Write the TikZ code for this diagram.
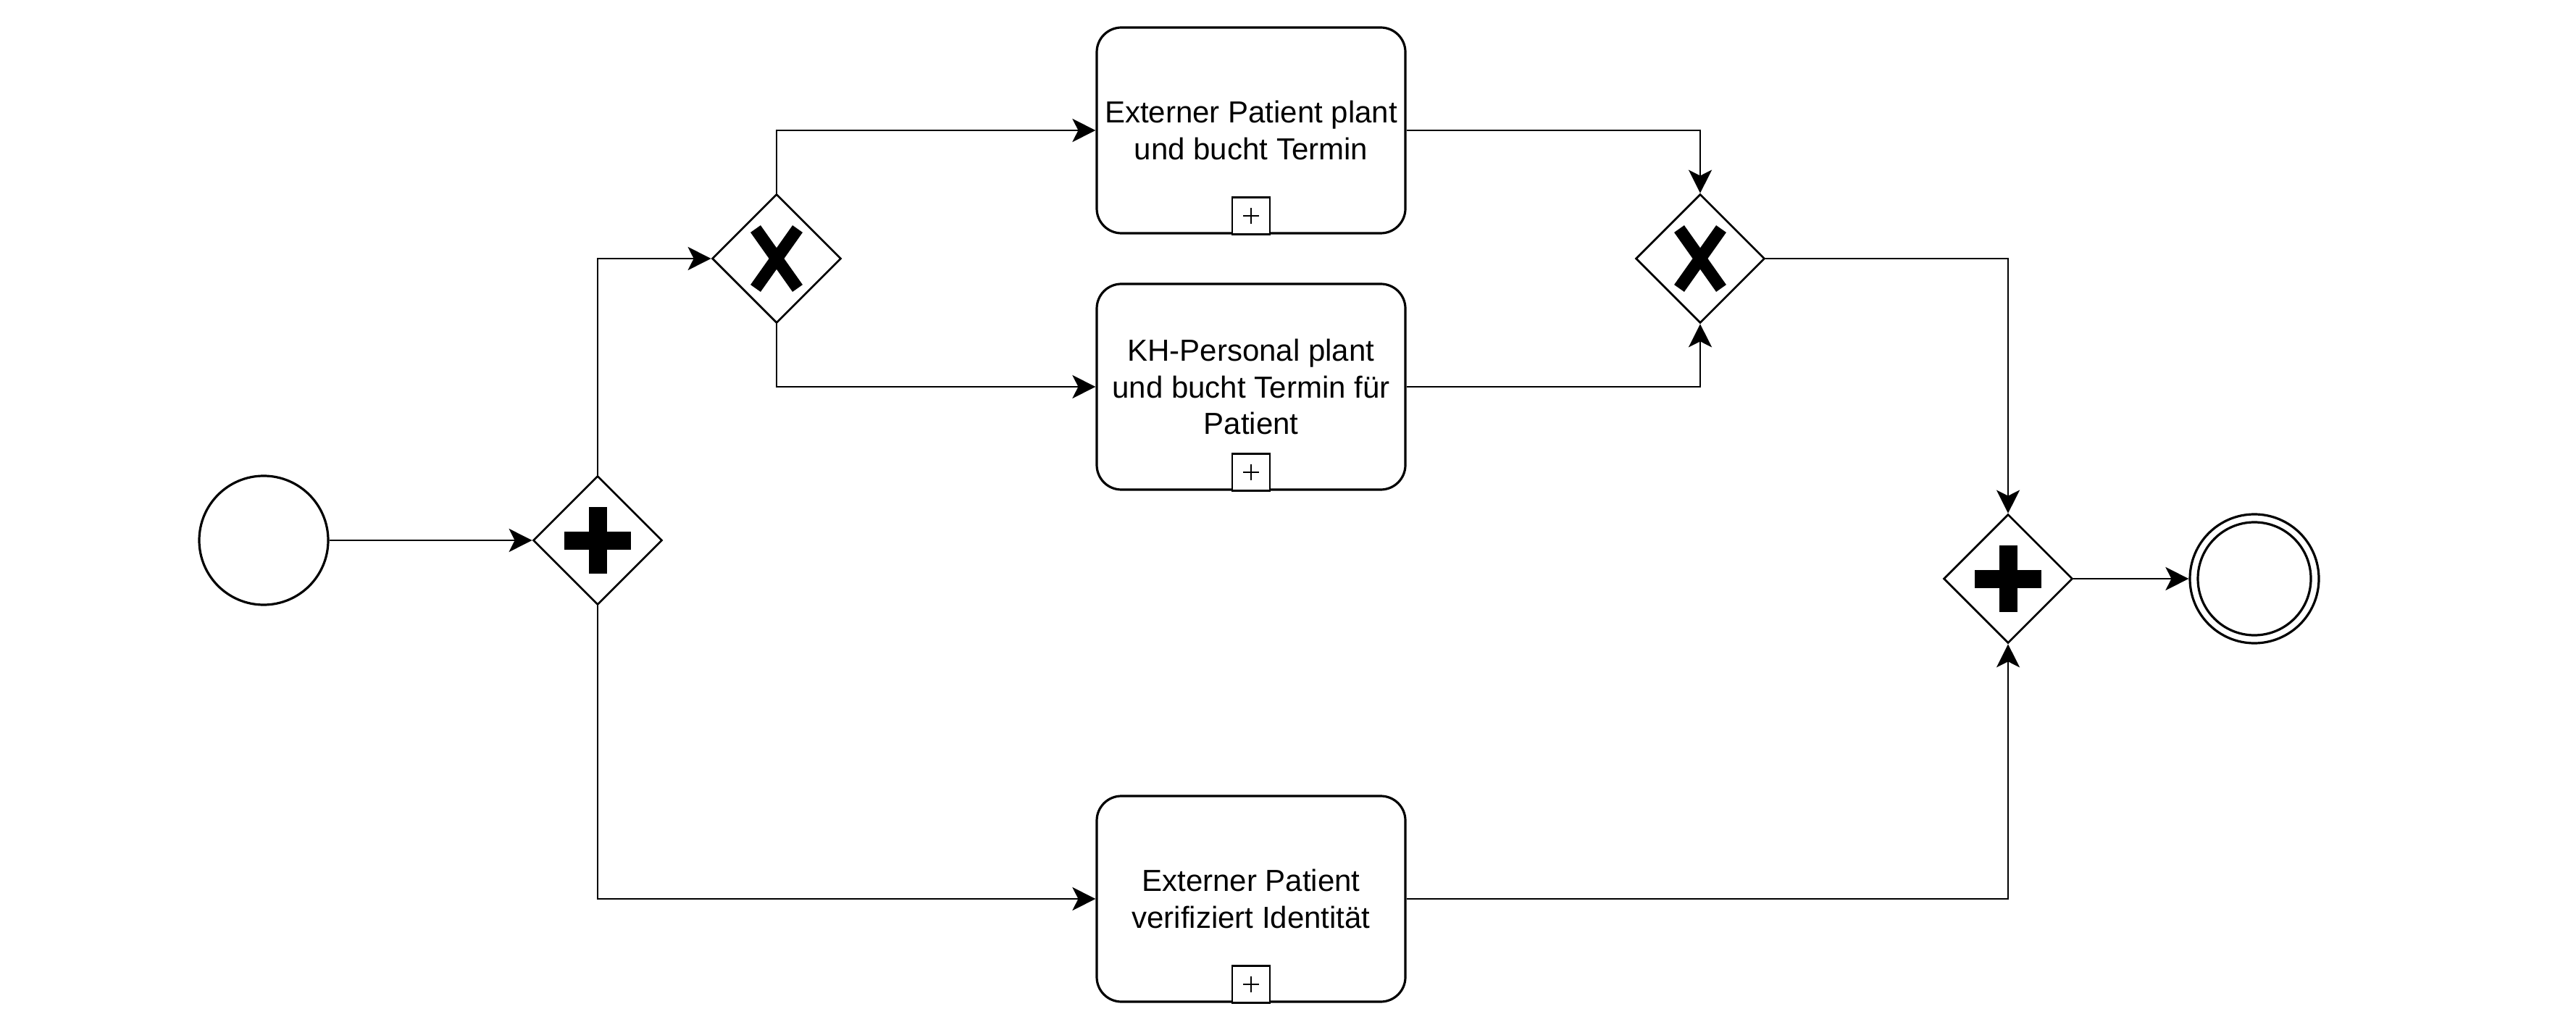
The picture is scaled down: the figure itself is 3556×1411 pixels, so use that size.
\documentclass[tikz,border=0pt]{standalone}
\usepackage{fontspec}
\setmainfont{Liberation Sans}
\usetikzlibrary{shapes.geometric,arrows.meta}
\tikzset{
  flow/.style={line width=0.68pt,-{Stealth[length=8pt,width=8pt,inset=2pt]}},
  task/.style={draw,line width=0.8pt,rectangle,rounded corners=8.5pt,minimum width=106.5pt,minimum height=71pt,inner sep=0pt,align=center,font=\fontsize{10.5pt}{12.6pt}\selectfont},
  gateway/.style={draw,line width=0.68pt,diamond,minimum width=44.5pt,minimum height=44.5pt,inner sep=0pt},
  event/.style={draw,line width=0.8pt,circle,minimum size=44.5pt,inner sep=0pt},
  pmark/.pic={\fill (-46,-12.5) rectangle (46,12.5); \fill (-12.5,-46) rectangle (12.5,46);},
  xmark/.pic={\draw[line width=4.25pt] (-29,-41) -- (29,41) (-29,41) -- (29,-41);},
  submark/.pic={\draw[line width=0.7pt,fill=white] (-26,0) rectangle (26,-51);
                \draw[line width=0.6pt] (-11,-25.5) -- (11,-25.5) (0,-14.5) -- (0,-36.5);}
}
\begin{document}
\begin{tikzpicture}[x=0.25pt,y=-0.25pt]
\fill[white] (0,0) rectangle (3556,1411);
\useasboundingbox (0,0) rectangle (3556,1411);
\node[event] (S) at (364,746) {};
\node[gateway] (P1) at (825,746) {};
\node[gateway] (X1) at (1072,357) {};
\node[task] (TA) at (1727,180) {Externer Patient plant\\und bucht Termin};
\node[task] (TB) at (1727,534) {KH-Personal plant\\und bucht Termin für\\Patient};
\node[task] (TC) at (1727,1241) {Externer Patient\\verifiziert Identität};
\node[gateway] (X2) at (2347,357) {};
\node[gateway] (P2) at (2772,799) {};
\node[event] (E) at (3112,799) {};
\draw[line width=0.8pt] (E) circle[radius=19.5pt];
\pic at (P1) {pmark};
\pic at (P2) {pmark};
\pic at (X1) {xmark};
\pic at (X2) {xmark};
\pic at (TA.south) {submark};
\pic at (TB.south) {submark};
\pic at (TC.south) {submark};
\draw[flow] (S) -- (P1);
\draw[flow] (P1.north) |- (X1.west);
\draw[flow] (P1.south) |- (TC.west);
\draw[flow] (X1.north) |- (TA.west);
\draw[flow] (X1.south) |- (TB.west);
\draw[flow] (TA.east) -| (X2.north);
\draw[flow] (TB.east) -| (X2.south);
\draw[flow] (X2.east) -| (P2.north);
\draw[flow] (TC.east) -| (P2.south);
\draw[flow] (P2) -- (E);
\end{tikzpicture}
\end{document}
